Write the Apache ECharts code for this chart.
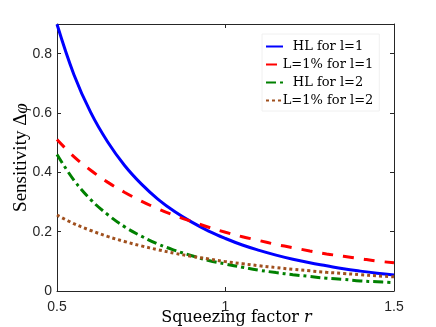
<!DOCTYPE html>
<html>
<head>
<meta charset="utf-8">
<script src="https://cdn.jsdelivr.net/npm/echarts@6/dist/echarts.min.js"></script>
<style>
html,body{margin:0;padding:0;background:#fff;}
#chart{width:436px;height:327px;}
</style>
</head>
<body>
<div id="chart"></div>
<script>
const rVals = [0.5, 0.55, 0.6, 0.65, 0.7, 0.75, 0.8, 0.85, 0.9, 0.95, 1.0, 1.05, 1.1, 1.15, 1.2, 1.25, 1.3, 1.35, 1.4, 1.45, 1.5];
const hlL1 = [0.899, 0.730, 0.602, 0.503, 0.424, 0.361, 0.309, 0.267, 0.232, 0.202, 0.177, 0.155, 0.137, 0.121, 0.107, 0.095, 0.085, 0.075, 0.067, 0.060, 0.054];
const lossL1 = [0.511, 0.453, 0.407, 0.367, 0.333, 0.303, 0.277, 0.254, 0.234, 0.215, 0.198, 0.183, 0.170, 0.157, 0.146, 0.135, 0.125, 0.117, 0.109, 0.101, 0.095];
const hlL2 = [0.460, 0.374, 0.308, 0.258, 0.217, 0.185, 0.158, 0.137, 0.119, 0.103, 0.091, 0.080, 0.070, 0.062, 0.055, 0.049, 0.043, 0.039, 0.034, 0.031, 0.028];
const lossL2 = [0.256, 0.227, 0.204, 0.184, 0.167, 0.152, 0.139, 0.127, 0.117, 0.108, 0.099, 0.092, 0.085, 0.079, 0.073, 0.068, 0.063, 0.059, 0.055, 0.051, 0.048];
const seriesNames = ['HL for l=1', 'L=1% for l=1', 'HL for l=2', 'L=1% for l=2'];
const xTickLabels = ['0.5', '1', '1.5'];
const yTickLabels = ['0', '0.2', '0.4', '0.6', '0.8'];

const axisColor = '#262626';
function pairs(ys) { return rVals.map((r, i) => [r, ys[i]]); }

const chart = echarts.init(document.getElementById('chart'), null, {renderer: 'canvas'});

const baseX = {
  type: 'value', min: 0.5, max: 1.5, interval: 0.5,
  axisLine: {show: true, onZero: false, lineStyle: {color: axisColor, width: 1}},
  axisTick: {show: true, inside: true, length: 4, lineStyle: {color: axisColor}},
  splitLine: {show: false}
};
const baseY = {
  type: 'value', min: 0, max: 0.9, interval: 0.2,
  axisLine: {show: true, onZero: false, lineStyle: {color: axisColor, width: 1}},
  axisTick: {show: true, inside: true, length: 4, lineStyle: {color: axisColor}},
  splitLine: {show: false}
};

function fmtX(v) {
  const idx = Math.round((v - 0.5) / 0.5);
  return Math.abs(v - (0.5 + idx * 0.5)) < 1e-6 && xTickLabels[idx] !== undefined ? xTickLabels[idx] : '';
}
function fmtY(v) {
  const idx = Math.round(v / 0.2);
  return Math.abs(v - idx * 0.2) < 1e-6 && yTickLabels[idx] !== undefined ? yTickLabels[idx] : '';
}

const option = {
  animation: false,
  backgroundColor: '#ffffff',
  grid: {left: 57, right: 42, top: 24, bottom: 36, containLabel: false, outerBoundsMode: 'none'},
  xAxis: [
    Object.assign({}, baseX, {
      position: 'bottom',
      axisLabel: {show: true, margin: 9, color: axisColor, fontFamily: 'Liberation Sans', fontSize: 14, formatter: fmtX, showMaxLabel: true, showMinLabel: true},
      name: 'Squeezing factor {i|r}',
      nameLocation: 'middle',
      nameGap: 19,
      nameMoveOverlap: false,
      nameTextStyle: {
        fontFamily: 'DejaVu Serif', fontSize: 16, color: '#000',
        padding: [0, 0, 0, 22],
        rich: {i: {fontFamily: 'DejaVu Serif', fontStyle: 'italic', fontSize: 16, color: '#000'}}
      }
    }),
    Object.assign({}, baseX, {position: 'top', axisLabel: {show: false}})
  ],
  yAxis: [
    Object.assign({}, baseY, {
      position: 'left',
      axisLabel: {show: true, margin: 5, color: axisColor, fontFamily: 'Liberation Sans', fontSize: 14, formatter: fmtY, showMaxLabel: false},
      name: 'Sensitivity Δ{i|φ}',
      nameLocation: 'middle',
      nameGap: 26,
      nameMoveOverlap: false,
      nameTextStyle: {
        fontFamily: 'Liberation Serif', fontSize: 19, color: '#000',
        rich: {i: {fontFamily: 'Liberation Serif', fontStyle: 'italic', fontSize: 19, color: '#000'}}
      }
    }),
    Object.assign({}, baseY, {position: 'right', axisLabel: {show: false}})
  ],
  legend: {
    orient: 'vertical',
    left: 262, top: 34,
    padding: [6, 6, 4, 3],
    itemGap: 5,
    itemWidth: 17, itemHeight: 4,
    backgroundColor: '#ffffff',
    borderColor: '#f0f0f0', borderWidth: 1,
    itemStyle: {color: 'rgba(0,0,0,0)', borderColor: 'rgba(0,0,0,0)', borderWidth: 0},
    data: seriesNames,
    formatter: function (name) { return '{t|' + name + '}'; },
    textStyle: {
      fontFamily: 'DejaVu Serif', fontSize: 13, color: '#000',
      rich: {t: {fontFamily: 'DejaVu Serif', fontSize: 13, color: '#000', width: 80, align: 'center', lineHeight: 14}}
    }
  },
  series: [
    {name: seriesNames[0], type: 'line', data: pairs(hlL1), showSymbol: false, symbol: 'none', smooth: 0.4, clip: true,
     lineStyle: {color: '#0000ff', width: 3, type: 'solid'}, itemStyle: {color: '#0000ff'}},
    {name: seriesNames[1], type: 'line', data: pairs(lossL1), showSymbol: false, symbol: 'none', smooth: 0.4, clip: true,
     lineStyle: {color: '#ff0000', width: 3, type: [11, 10], cap: 'butt'}, itemStyle: {color: '#ff0000'}},
    {name: seriesNames[2], type: 'line', data: pairs(hlL2), showSymbol: false, symbol: 'none', smooth: 0.4, clip: true,
     lineStyle: {color: '#008000', width: 3, type: [10, 4, 3, 4], cap: 'butt'}, itemStyle: {color: '#008000'}},
    {name: seriesNames[3], type: 'line', data: pairs(lossL2), showSymbol: false, symbol: 'none', smooth: 0.4, clip: true,
     lineStyle: {color: '#a0501e', width: 3, type: [3, 3], cap: 'butt'}, itemStyle: {color: '#a0501e'}}
  ]
};
chart.setOption(option);
</script>
</body>
</html>
